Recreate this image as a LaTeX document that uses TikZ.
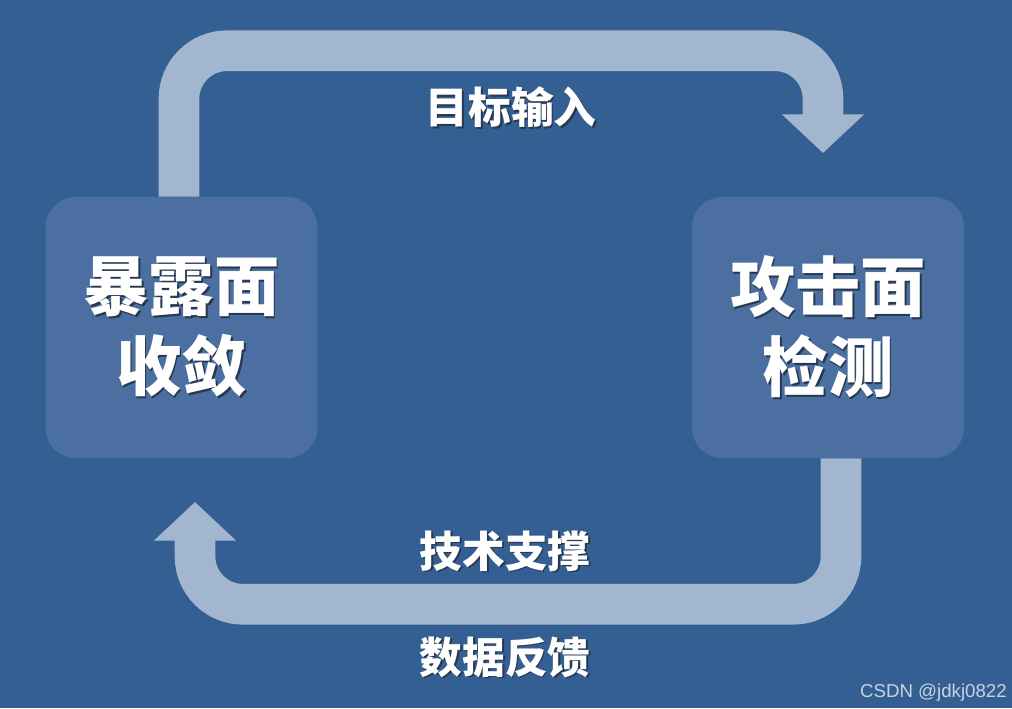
\documentclass[tikz,border=0pt]{standalone}
\usepackage{fontspec}
\newfontfamily\cjk{Noto Sans CJK SC}
\setsansfont{Liberation Sans}
\usetikzlibrary{arrows.meta,positioning,calc}
\pgfdeclarelayer{back}
\pgfsetlayers{back,main}
\definecolor{scbg}{HTML}{335F93}
\definecolor{scbox}{HTML}{4A6FA0}
\definecolor{scarrow}{HTML}{A3B6CF}
\definecolor{scshadow}{HTML}{26374F}
\definecolor{scmark}{HTML}{C9D2DE}
\newcommand{\shadowed}[1]{\rlap{\kern1.3pt\raisebox{-1.3pt}{\textcolor{scshadow}{#1}}}#1}

\begin{document}
\begin{tikzpicture}[
  x=0.75pt, y=-0.75pt,
  surface/.style={
    fill=scbox, rounded corners=22.5pt, inner sep=0pt,
    minimum width=204pt, minimum height=195.75pt,
    text=white, align=center,
    font=\cjk\bfseries\fontsize{49}{60}\selectfont},
  flow/.style={draw=scarrow, line width=30.5pt, rounded corners=36pt,
    -{Triangle[length=29pt, width=60pt]}},
  lbl/.style={text=white, inner sep=0pt,
    font=\cjk\bfseries\fontsize{32}{36}\selectfont},
  wmark/.style={text=scmark, inner sep=0pt,
    font=\sffamily\fontsize{14}{17}\selectfont},
]

  \useasboundingbox (0,0) rectangle (1012,708);

  %% ---- Boxes ----
  \node[surface] (conv)  at (181.5,327.5) {\shadowed{暴露面}\\\shadowed{收敛}};
  \node[surface] (probe) at (828,327.5)   {\shadowed{攻击面}\\\shadowed{检测}};

  %% ---- Arrow tips ----
  \coordinate (toptip) at (823,153);
  \coordinate (bottip) at (195,502);

  %% ---- Background and flow (behind the boxes) ----
  \begin{pgfonlayer}{back}
    \fill[scbg] (0,0) rectangle (1012,708);
    \draw[flow] ([xshift=-1.9pt]conv.north) -- ++(0,-146) -| (toptip);
    \draw[flow] ([xshift=9.75pt]probe.south) -- ++(0,146) -| (bottip);
  \end{pgfonlayer}

  %% ---- Labels ----
  \node[lbl] (input)   at (511,108) {\shadowed{目标输入}};
  \node[lbl] (support) at (505,552) {\shadowed{技术支撑}};
  \node[lbl] (feedbk)  at (505,658) {\shadowed{数据反馈}};

  \node[wmark, anchor=base east] (wm) at (1007,697) {CSDN @jdkj0822};

\end{tikzpicture}
\end{document}
